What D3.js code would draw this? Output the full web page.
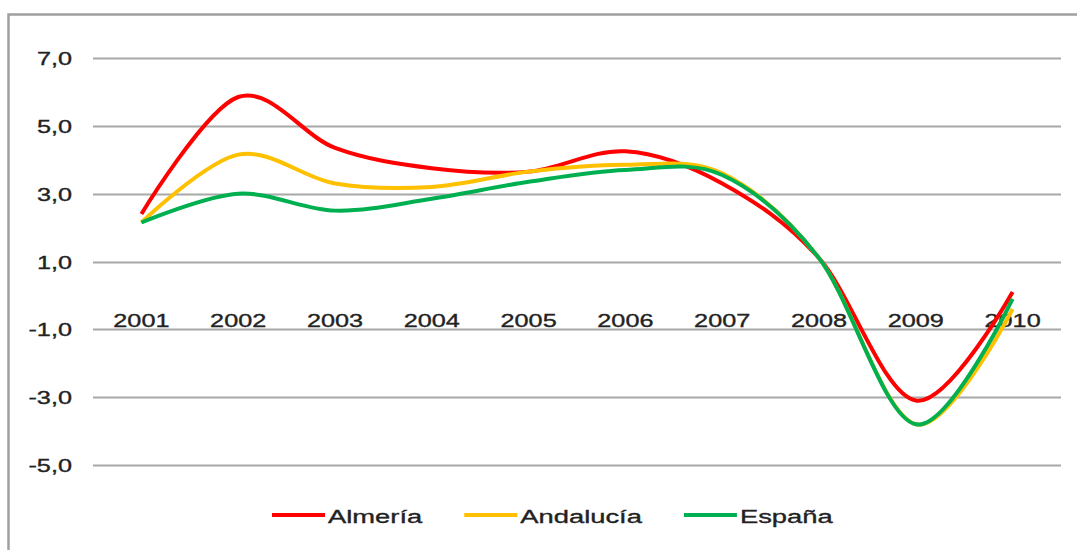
<!DOCTYPE html>
<html>
<head>
<meta charset="utf-8">
<script src="https://cdn.jsdelivr.net/npm/d3@7"></script>
<style>
  body { margin: 0; background: #fff; }
  svg { display: block; }
  text { font-family: "Liberation Sans", Arial, sans-serif; fill: #222; stroke: #222; stroke-width: 0.35px; }
</style>
</head>
<body>
<svg></svg>
<script>
// Data
var years = ['2001', '2002', '2003', '2004', '2005', '2006', '2007', '2008', '2009', '2010'];
var almeria = [2.4, 5.85, 4.35, 3.75, 3.65, 4.25, 3.3, 1.1, -3.1, 0.1];
var andalucia = [2.15, 4.15, 3.3, 3.2, 3.65, 3.85, 3.6, 1.1, -3.8, -0.4];
var espana = [2.15, 3.0, 2.5, 2.85, 3.35, 3.7, 3.55, 1.1, -3.8, -0.1];
var yTicks = [7, 5, 3, 1, -1, -3, -5];
var seriesNames = ['Almería', 'Andalucía', 'España'];

var width = 1077;
var height = 550;
var stretch = 1.33; // text in the original is stretched horizontally
var colors = ['#ff0000', '#ffc000', '#00b050'];

var svg = d3.select('svg')
  .attr('width', width)
  .attr('height', height);

// outer frame
svg.append('rect')
  .attr('x', 8.5).attr('y', 14.5)
  .attr('width', 1200).attr('height', 700)
  .attr('fill', 'none')
  .attr('stroke', '#a0a0a0')
  .attr('stroke-width', 2.5);

var x = d3.scalePoint()
  .domain(years)
  .range([93, 1061])
  .padding(0.5);

var y = d3.scaleLinear()
  .domain([-5, 7])
  .range([465, 58]);

// gridlines
svg.append('g')
  .selectAll('line')
  .data(yTicks)
  .enter().append('line')
  .attr('x1', 93)
  .attr('x2', 1061)
  .attr('y1', function (d) { return Math.round(y(d)) + 0.5; })
  .attr('y2', function (d) { return Math.round(y(d)) + 0.5; })
  .attr('stroke', '#a8a8a8')
  .attr('stroke-width', 2);

function fmt(d) {
  return d3.format('.1f')(d).replace('.', ',').replace('−', '-');
}

// y labels
svg.append('g')
  .selectAll('text')
  .data(yTicks)
  .enter().append('text')
  .attr('transform', function (d) {
    return 'translate(72,' + (y(d) + 7) + ') scale(' + stretch + ',1)';
  })
  .attr('text-anchor', 'end')
  .style('font-size', '19px')
  .text(fmt);

// x labels (axis crosses at 0)
svg.append('g')
  .selectAll('text')
  .data(years)
  .enter().append('text')
  .attr('transform', function (d) {
    return 'translate(' + x(d) + ',' + (y(0) + 32) + ') scale(' + stretch + ',1)';
  })
  .attr('text-anchor', 'middle')
  .style('font-size', '19px')
  .text(function (d) { return d; });

// lines
var line = d3.line()
  .x(function (d, i) { return x(years[i]); })
  .y(function (d) { return y(d); })
  .curve(d3.curveCatmullRom.alpha(0));

var allSeries = [almeria, andalucia, espana];

svg.append('g')
  .selectAll('path')
  .data(allSeries)
  .enter().append('path')
  .attr('d', line)
  .attr('fill', 'none')
  .attr('stroke', function (d, i) { return colors[i]; })
  .attr('stroke-width', 4)
  .attr('stroke-linecap', 'butt');

// legend
var legend = svg.append('g');
var lx = 272;
var ly = 515;
var legendStretch = 1.44;
seriesNames.forEach(function (name, i) {
  legend.append('line')
    .attr('x1', lx).attr('x2', lx + 53)
    .attr('y1', ly).attr('y2', ly)
    .attr('stroke', colors[i])
    .attr('stroke-width', 4);
  var t = legend.append('text')
    .attr('transform', 'translate(' + (lx + 56) + ',' + (ly + 8) + ') scale(' + legendStretch + ',1)')
    .style('font-size', '19px')
    .text(name);
  var w = t.node().getComputedTextLength() * legendStretch;
  lx = lx + 56 + w + 42;
});
</script>
</body>
</html>
